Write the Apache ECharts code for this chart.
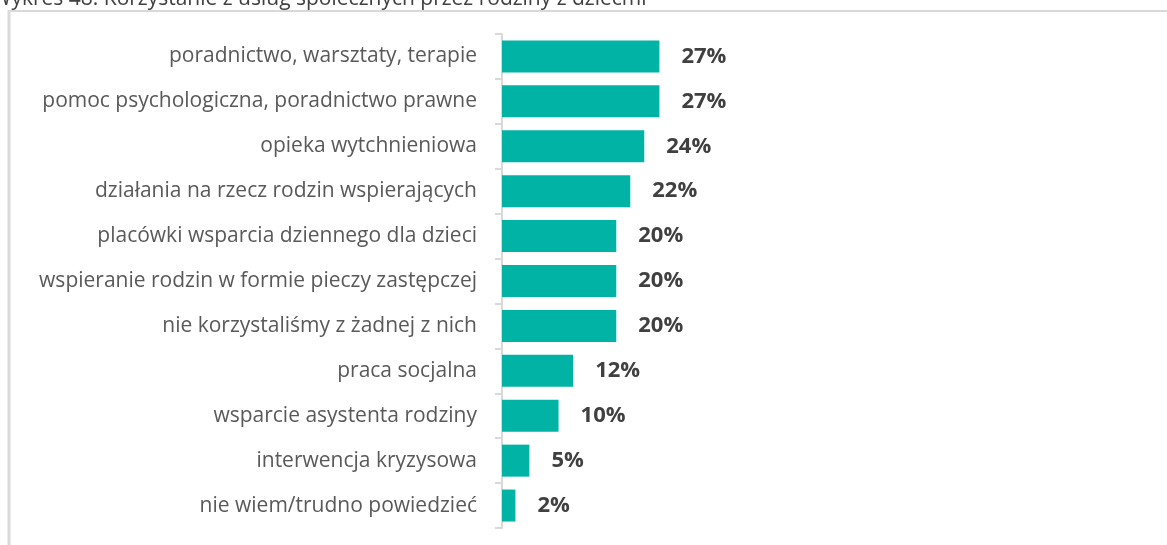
<!DOCTYPE html>
<html>
<head>
<meta charset="utf-8">
<script src="https://cdn.jsdelivr.net/npm/echarts@6/dist/echarts.min.js"></script>
<style>
  html, body { margin: 0; padding: 0; background: #fff; }
  #chart { width: 1167px; height: 545px; }
</style>
</head>
<body>
<div id="chart"></div>
<script>
// kategorie od góry do dołu
var categories = [
  'poradnictwo, warsztaty, terapie',
  'pomoc psychologiczna, poradnictwo prawne',
  'opieka wytchnieniowa',
  'działania na rzecz rodzin wspierających',
  'placówki wsparcia dziennego dla dzieci',
  'wspieranie rodzin w formie pieczy zastępczej',
  'nie korzystaliśmy z żadnej z nich',
  'praca socjalna',
  'wsparcie asystenta rodziny',
  'interwencja kryzysowa',
  'nie wiem/trudno powiedzieć'
];
// udział w %
var values = [27.0, 27.0, 24.4, 22.0, 19.6, 19.6, 19.6, 12.2, 9.7, 4.7, 2.3];
var titleText = 'Wykres 48. Korzystanie z usług społecznych przez rodziny z dziećmi';

var chart = echarts.init(document.getElementById('chart'));
var options = {
  animation: false,
  backgroundColor: '#ffffff',
  textStyle: { fontFamily: 'Open Sans' },
  graphic: [
    {
      type: 'text', left: -8, top: -11, z: 10,
      style: { text: titleText, fontSize: 21, fontFamily: 'Open Sans', fill: '#404040' }
    },
    {
      type: 'line', z: 5,
      shape: { x1: 8, y1: 11, x2: 1167, y2: 11 },
      style: { stroke: '#d9d9d9', lineWidth: 2 }
    },
    {
      type: 'line', z: 5,
      shape: { x1: 9, y1: 10, x2: 9, y2: 545 },
      style: { stroke: '#d9d9d9', lineWidth: 3 }
    }
  ],
  grid: { left: 502, right: 82, top: 34, bottom: 17, containLabel: false },
  xAxis: {
    type: 'value',
    min: 0,
    max: 100,
    show: false
  },
  yAxis: {
    type: 'category',
    inverse: true,
    data: categories,
    axisLine: { show: true, lineStyle: { color: '#d9d9d9', width: 2 } },
    axisTick: { show: true, length: 7, lineStyle: { color: '#d9d9d9', width: 2 } },
    axisLabel: { margin: 25, fontSize: 21, color: '#595959', fontFamily: 'Open Sans' }
  },
  series: [{
    type: 'bar',
    data: values,
    barWidth: 32,
    itemStyle: { color: '#00b3a4' },
    label: {
      show: true,
      position: 'right',
      distance: 22,
      fontSize: 22,
      fontWeight: 'bold',
      color: '#404040',
      fontFamily: 'Open Sans',
      formatter: function (p) { return Math.round(p.value) + '%'; }
    }
  }]
};
chart.setOption(options, true);
</script>
</body>
</html>
